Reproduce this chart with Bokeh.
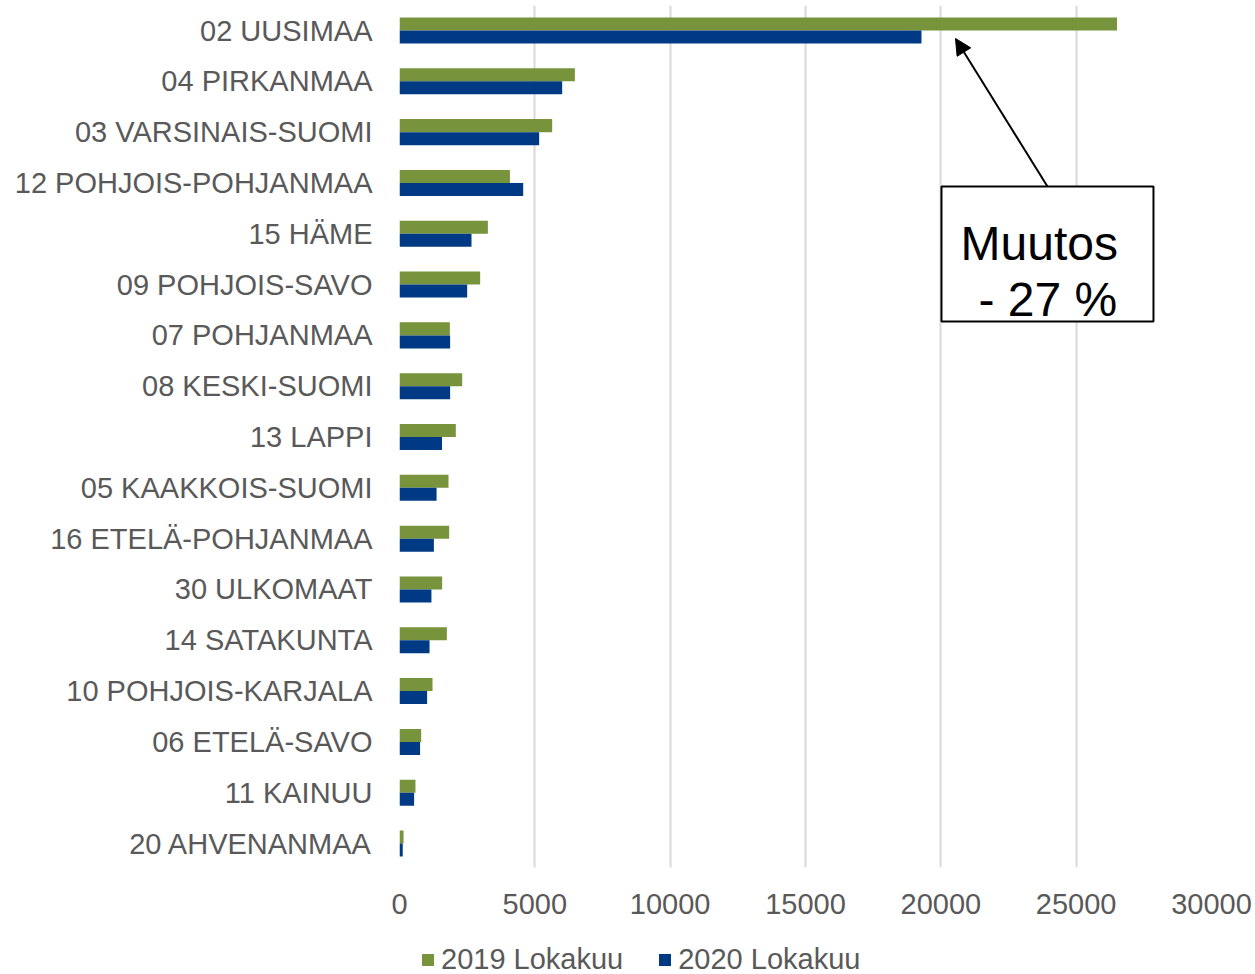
from bokeh.plotting import figure
from bokeh.layouts import column
from bokeh.models import (ColumnDataSource, Range1d, FixedTicker, Legend, LegendItem,
                          BoxAnnotation, Label, Arrow, NormalHead)
from bokeh.transform import dodge
from bokeh.embed import file_html
from bokeh.resources import INLINE

regions = ["02 UUSIMAA", "04 PIRKANMAA", "03 VARSINAIS-SUOMI", "12 POHJOIS-POHJANMAA",
           "15 HÄME", "09 POHJOIS-SAVO", "07 POHJANMAA", "08 KESKI-SUOMI", "13 LAPPI",
           "05 KAAKKOIS-SUOMI", "16 ETELÄ-POHJANMAA", "30 ULKOMAAT", "14 SATAKUNTA",
           "10 POHJOIS-KARJALA", "06 ETELÄ-SAVO", "11 KAINUU", "20 AHVENANMAA"]
v2019 = [26510, 6480, 5640, 4080, 3265, 2980, 1860, 2316, 2080, 1810, 1835, 1575, 1750,
         1220, 800, 590, 150]
v2020 = [19285, 6010, 5160, 4570, 2660, 2500, 1870, 1870, 1570, 1370, 1270, 1180, 1110,
         1020, 760, 540, 120]
series_names = ["2019 Lokakuu", "2020 Lokakuu"]
xticks = [0, 5000, 10000, 15000, 20000, 25000, 30000]

GREEN = "#77933C"
BLUE = "#003A85"
TXT = "#595959"
FONT = "Liberation Sans"

n = len(regions)
ypos = [n - 1 - i for i in range(n)]
src = ColumnDataSource(dict(y=ypos, v2019=v2019, v2020=v2020, name=regions))

p = figure(frame_width=812, frame_height=862, x_range=Range1d(0, 30000),
           y_range=Range1d(-0.472, 16.492),
           output_backend="svg", toolbar_location=None,
           min_border_left=399, min_border_right=42, min_border_top=5, min_border_bottom=70)
p.outline_line_color = None
p.background_fill_color = "white"

bh = 0.256
r1 = p.hbar(y=dodge('y', bh / 2, range=p.y_range), right='v2019', left=0, height=bh,
            fill_color=GREEN, line_color=None, source=src)
r2 = p.hbar(y=dodge('y', -bh / 2, range=p.y_range), right='v2020', left=0, height=bh,
            fill_color=BLUE, line_color=None, source=src)

# axes
p.xaxis.ticker = FixedTicker(ticks=xticks)
p.xgrid.ticker = FixedTicker(ticks=xticks)
p.xaxis.axis_line_color = None
p.xaxis.major_tick_line_color = None
p.xaxis.minor_tick_line_color = None
p.xaxis.major_tick_out = 0
p.xaxis.major_tick_in = 0
p.xaxis.minor_tick_out = 0
p.xaxis.major_label_text_font_size = "29px"
p.xaxis.major_label_text_color = TXT
p.xaxis.major_label_text_font = FONT
p.xaxis.major_label_standoff = 26

p.yaxis.ticker = FixedTicker(ticks=ypos)
p.yaxis.major_label_overrides = {y: nm for y, nm in zip(ypos, regions)}
p.yaxis.axis_line_color = None
p.yaxis.major_tick_line_color = None
p.yaxis.minor_tick_line_color = None
p.yaxis.major_tick_out = 0
p.yaxis.major_tick_in = 0
p.yaxis.minor_tick_out = 0
p.yaxis.major_label_text_font_size = "29px"
p.yaxis.major_label_text_color = TXT
p.yaxis.major_label_text_font = FONT
p.yaxis.major_label_standoff = 27

p.ygrid.grid_line_color = None
p.xgrid.grid_line_color = "#d9d9d9"
p.xgrid.grid_line_width = 2

# annotation
p.add_layout(Arrow(end=NormalHead(size=16, fill_color="black", line_color="black"),
                   x_start=23940, y_start=12.93, x_end=20541, y_end=15.843,
                   line_width=2, line_color="black"))
p.add_layout(BoxAnnotation(left=20024, right=27856, top=12.93, bottom=10.273,
                           fill_color="white", fill_alpha=1, line_color="black",
                           line_width=2, line_alpha=1))
p.add_layout(Label(x=20727, y=11.808, text="Muutos", text_font_size="48px",
                   text_color="black", text_font=FONT, text_baseline="alphabetic"))
p.add_layout(Label(x=21391, y=10.706, text="- 27 %", text_font_size="48px",
                   text_color="black", text_font=FONT, text_baseline="alphabetic"))

# legend strip (separate figure below the chart); its bars lie outside its view
lg = figure(width=1253, height=37, x_range=Range1d(0, 1), y_range=Range1d(100, 101),
            output_backend="svg", toolbar_location=None,
            x_axis_location=None, y_axis_location=None, min_border=0)
lg.outline_line_color = None
lg.grid.visible = False
g1 = lg.hbar(y='y', right='v2019', left=0, height=bh, fill_color=GREEN, line_color=None,
             source=src)
g2 = lg.hbar(y='y', right='v2020', left=0, height=bh, fill_color=BLUE, line_color=None,
             source=src)
legend = Legend(items=[LegendItem(label=series_names[0], renderers=[g1]),
                       LegendItem(label=series_names[1], renderers=[g2])],
                orientation="horizontal", location=(21, -2),
                label_text_font_size="29px", label_text_color=TXT, label_text_font=FONT,
                glyph_width=15, glyph_height=15, label_standoff=6, spacing=34,
                padding=0, margin=0, border_line_color=None, background_fill_alpha=0)
lg.add_layout(legend, "center")

layout = column(p, lg, spacing=0)
open("out.html", "w").write(file_html(layout, INLINE))
